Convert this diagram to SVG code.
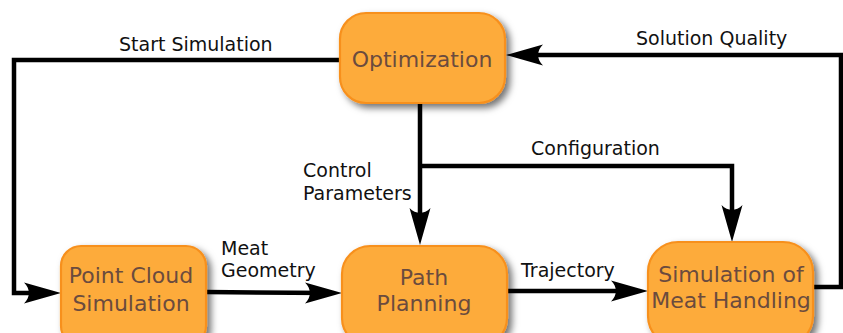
<svg xmlns="http://www.w3.org/2000/svg" width="843" height="333" viewBox="0 0 843 333">
  <style>
    .box { fill: #fdab3a; stroke: #f7901e; stroke-width: 2.2; filter: url(#shadow); }
    .name { font-family: "DejaVu Sans", "Liberation Sans", sans-serif; font-size: 22px; fill: #6b4b3e; text-anchor: middle; }
    .wire { fill: none; stroke: #000; stroke-width: 4.5; }
    .head { fill: #000; stroke: none; }
    .label { font-family: "DejaVu Sans", "Liberation Sans", sans-serif; font-size: 19px; fill: #111; }
  </style>
  <defs>
    <filter id="shadow" x="-20%" y="-20%" width="150%" height="150%">
      <feDropShadow dx="4" dy="4" stdDeviation="3.5" flood-color="#000" flood-opacity="0.55"/>
    </filter>
    <!-- barbed arrowhead, tip at the origin, pointing along +x -->
    <path id="arrowhead" class="head" d="M0,0 L-37,-10.5 C-30.5,-4 -30.5,4 -37,10.5 Z"/>
  </defs>

  <rect width="843" height="333" fill="#fff"/>

  <g id="connectors">
    <path class="wire" d="M340,60 H14 V293 H49"/>
    <use href="#arrowhead" transform="translate(61,293)"/>
    <path class="wire" d="M813,287 H841 V55 H518"/>
    <use href="#arrowhead" transform="translate(506,55) rotate(180)"/>
    <path class="wire" d="M420,103 V233"/>
    <use href="#arrowhead" transform="translate(420,245) rotate(90)"/>
    <path class="wire" d="M420,166 H732 V230"/>
    <use href="#arrowhead" transform="translate(732,242) rotate(90)"/>
    <path class="wire" d="M206,292 L330,293"/>
    <use href="#arrowhead" transform="translate(342,293)"/>
    <path class="wire" d="M507,291 L636,291"/>
    <use href="#arrowhead" transform="translate(648,291)"/>
    <text class="label" x="119" y="51">Start Simulation</text>
    <text class="label" x="636" y="45">Solution Quality</text>
    <text class="label" x="531" y="155">Configuration</text>
    <text class="label" x="303" y="177">Control</text>
    <text class="label" x="303" y="200">Parameters</text>
    <text class="label" x="221" y="255">Meat</text>
    <text class="label" x="221" y="277">Geometry</text>
    <text class="label" x="521" y="277">Trajectory</text>
  </g>

  <g id="optimization">
    <rect class="box" x="340" y="13" width="165" height="90" rx="26"/>
    <text class="name" x="422" y="67">Optimization</text>
  </g>

  <g id="point-cloud-simulation">
    <rect class="box" x="61" y="246" width="145" height="100" rx="20"/>
    <text class="name" x="131" y="283">Point Cloud</text>
    <text class="name" x="131" y="311">Simulation</text>
  </g>

  <g id="path-planning">
    <rect class="box" x="342" y="246" width="165" height="100" rx="28"/>
    <text class="name" x="424" y="285">Path</text>
    <text class="name" x="424" y="311">Planning</text>
  </g>

  <g id="meat-handling-simulation">
    <rect class="box" x="648" y="242" width="165" height="104" rx="30"/>
    <text class="name" x="731" y="282">Simulation of</text>
    <text class="name" x="731" y="308">Meat Handling</text>
  </g>
</svg>
